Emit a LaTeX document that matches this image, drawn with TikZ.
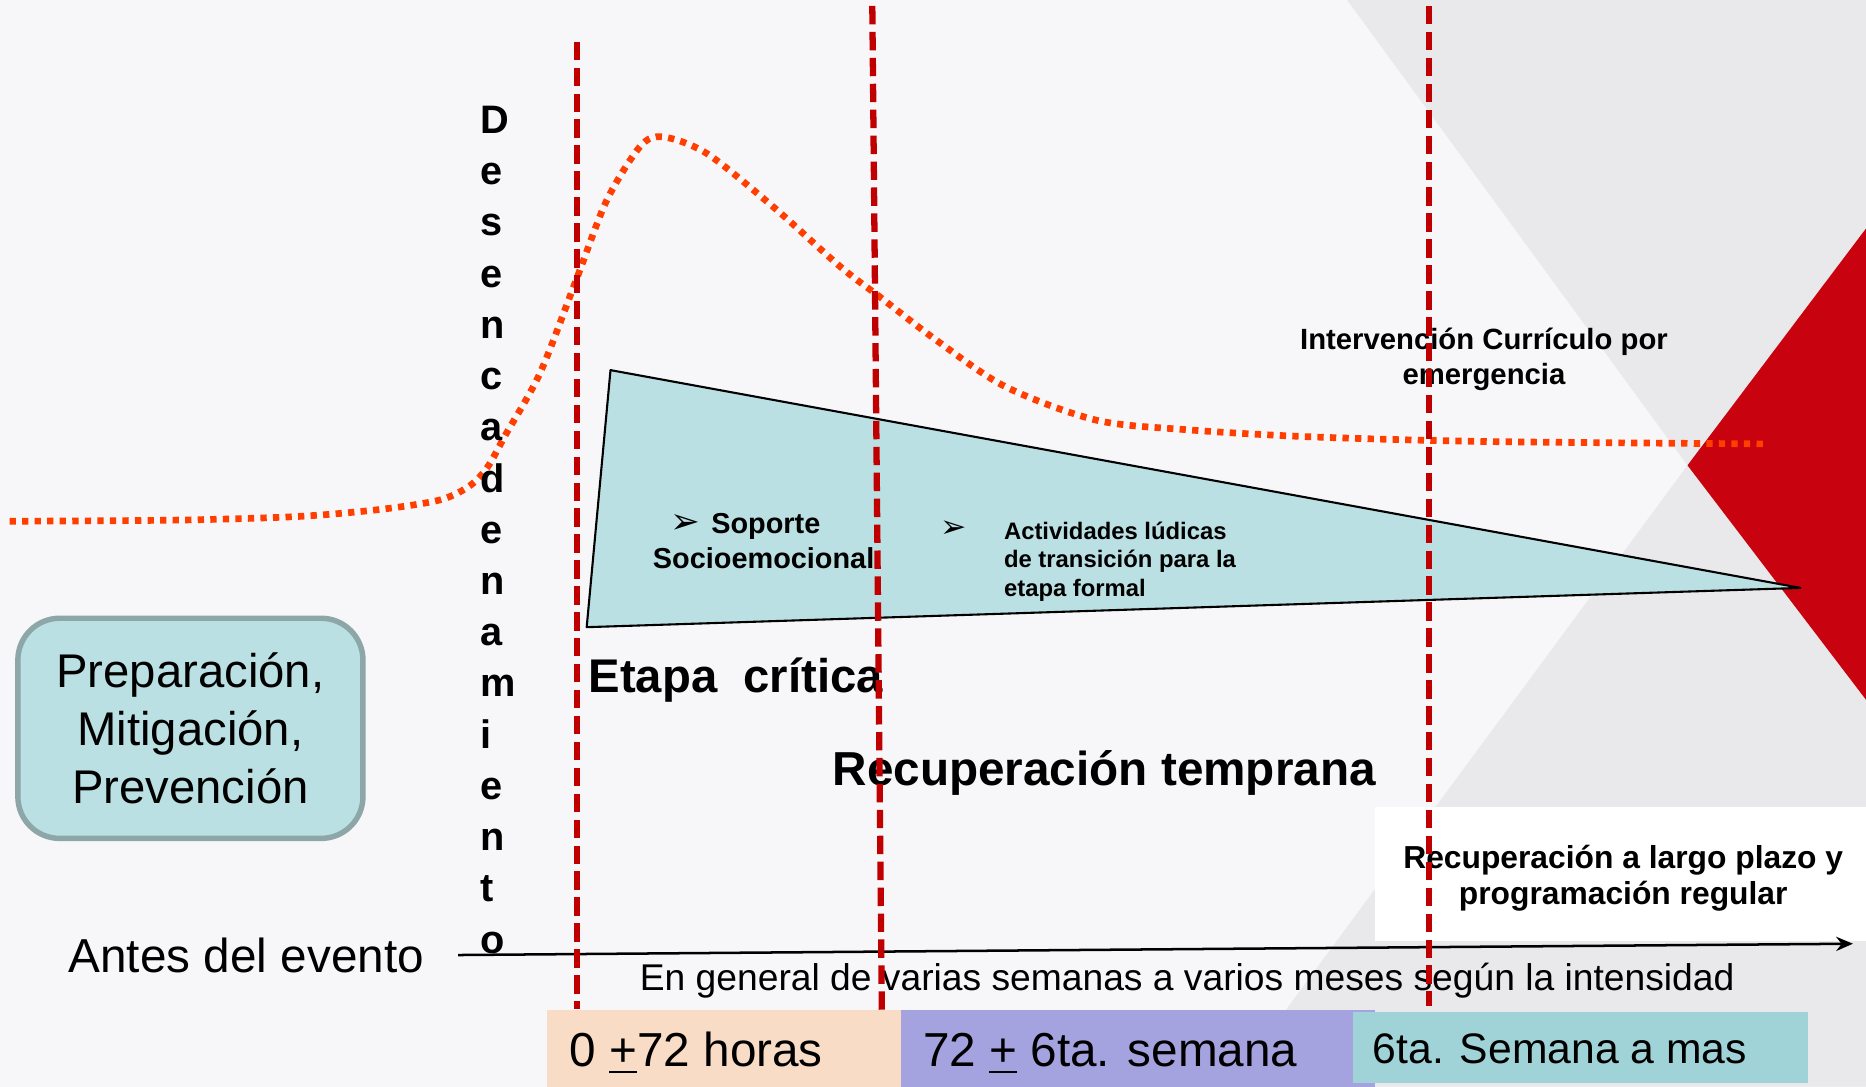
\documentclass[tikz,border=0pt]{standalone}
\usepackage{fontspec}
\setmainfont{Liberation Sans}
\newfontfamily\flechafont{DejaVu Sans}
\usetikzlibrary{arrows.meta}
\definecolor{fondo}{RGB}{247,247,249}
\definecolor{gris}{RGB}{233,233,235}
\definecolor{rojo}{RGB}{200,2,14}
\definecolor{rojocorte}{RGB}{192,0,0}
\definecolor{naranja}{RGB}{255,62,0}
\definecolor{celeste}{RGB}{186,224,227}
\definecolor{borde}{RGB}{141,167,169}
\definecolor{durazno}{RGB}{249,220,198}
\definecolor{lavanda}{RGB}{165,163,223}
\definecolor{turquesa}{RGB}{159,211,215}
\begin{document}
\begin{tikzpicture}[x=0.1mm,y=-0.1mm,>={Stealth[length=4pt,width=3.4pt]},line join=round,
	linea/.style={draw=rojocorte,line width=1.5pt,dash pattern=on 4.4pt off 1.8pt},
	punteado/.style={draw=naranja,line width=1.6pt,dash pattern=on 1.5pt off 1.5pt},
	texto/.style={inner sep=0pt,anchor=base west},
	letra/.style={texto,font=\fontsize{9.5}{11}\selectfont\bfseries}]
	\useasboundingbox (0,0) rectangle (1568,913);
	\fill[fondo] (0,0) rectangle (1568,913);
	\fill[gris] (1132,0) -- (1568,0) -- (1568,913) -- (1033,913) -- (1418,391) -- cycle;
	\fill[rojo] (1418,391) -- (1568,192) -- (1568,588) -- cycle;
	\fill[white] (1155,678) rectangle (1568,791);
	\fill[durazno] (460,849) rectangle (757,913);
	\fill[lavanda] (757,849) rectangle (1155,913);
	\fill[turquesa] (1137,850) rectangle (1519,910);
	\draw[fill=celeste,line width=0.5pt] (513,311) -- (1513,494) -- (493,527) -- cycle;
	\draw[punteado] plot[smooth] coordinates {(8,438) (150,437) (250,434) (320,428) (370,420) (395,408) (410,392) (425,365) (454,313) (485,233) (510,168) (538,123) (557,115) (594,129) (650,174) (706,224) (740,250) (787,286) (845,325) (921,353) (996,361) (1100,367) (1250,371) (1484,373)};
	\node[draw=borde,line width=1.3pt,fill=celeste,rounded corners=10pt,minimum width=29mm,minimum height=18.5mm,align=center,font=\fontsize{11.3}{13.9}\selectfont] (prep) at (160,612) {Preparación,\\Mitigación,\\Prevención};
	\foreach \l [count=\i from 0] in {D,e,s,e,n,c,a,d,e,n,a,m,i,e,n,t,o}
		\node[letra] (des\i) at (403,112+43.06*\i) {\l};
	\node[texto,font=\fontsize{11.4}{13.9}\selectfont] (antes) at (57,817) {Antes del evento};
	\node[texto,font=\fontsize{11.3}{13.9}\selectfont\bfseries] (critica) at (494,582) {Etapa~~crítica};
	\node[texto,font=\fontsize{11.4}{13.9}\selectfont\bfseries] (temprana) at (699,660) {Recuperación temprana};
	\node[texto,font=\fontsize{8.9}{10}\selectfont] (general) at (537,832) {En general de varias semanas a varios meses según la intensidad};
	\node[inner sep=0pt,font=\flechafont\fontsize{8.5}{9}\selectfont] (flecha1) at (576,440) {➢};
	\node[texto,font=\fontsize{6.9}{8.5}\selectfont\bfseries] (soporte) at (597,448) {Soporte};
	\node[texto,font=\fontsize{6.9}{8.5}\selectfont\bfseries] (socio) at (548,478) {Socioemocional};
	\node[inner sep=0pt,font=\flechafont\fontsize{7.5}{8}\selectfont] (flecha2) at (801,445) {➢};
	\node[texto,align=left,font=\fontsize{5.7}{6.8}\selectfont\bfseries] (ludicas) at (843,501) {Actividades lúdicas\\de transición para la\\etapa formal};
	\node[inner sep=0pt,anchor=base,align=center,font=\fontsize{7}{8.3}\selectfont\bfseries] (curriculo) at (1247,323) {Intervención Currículo por\\emergencia};
	\node[inner sep=0pt,anchor=base,align=center,font=\fontsize{7.6}{8.5}\selectfont\bfseries] (largo) at (1364,760) {Recuperación a largo plazo y\\programación regular};
	\node[texto,font=\fontsize{11.4}{13.9}\selectfont] (horas) at (478,896) {0 \underline{+}72 horas};
	\node[texto,font=\fontsize{11.4}{13.9}\selectfont] (semana) at (775,896) {72 \underline{+} 6ta. semana};
	\node[texto,font=\fontsize{10.2}{12}\selectfont] (mas) at (1153,894) {6ta. Semana a mas};
	\coordinate (eje0) at (385,802.5);
	\coordinate (eje1) at (1557,793);
	\draw[->,line width=0.6pt] (eje0) -- (eje1);
	\foreach \n/\xa/\ya/\xb/\yb in {a/485/35/485/848,b/733/5/741/850,c/1201/5/1201/845}{
		\coordinate (corte\n0) at (\xa,\ya);
		\coordinate (corte\n1) at (\xb,\yb);
		\draw[linea] (corte\n0) -- (corte\n1);}
\end{tikzpicture}
\end{document}
